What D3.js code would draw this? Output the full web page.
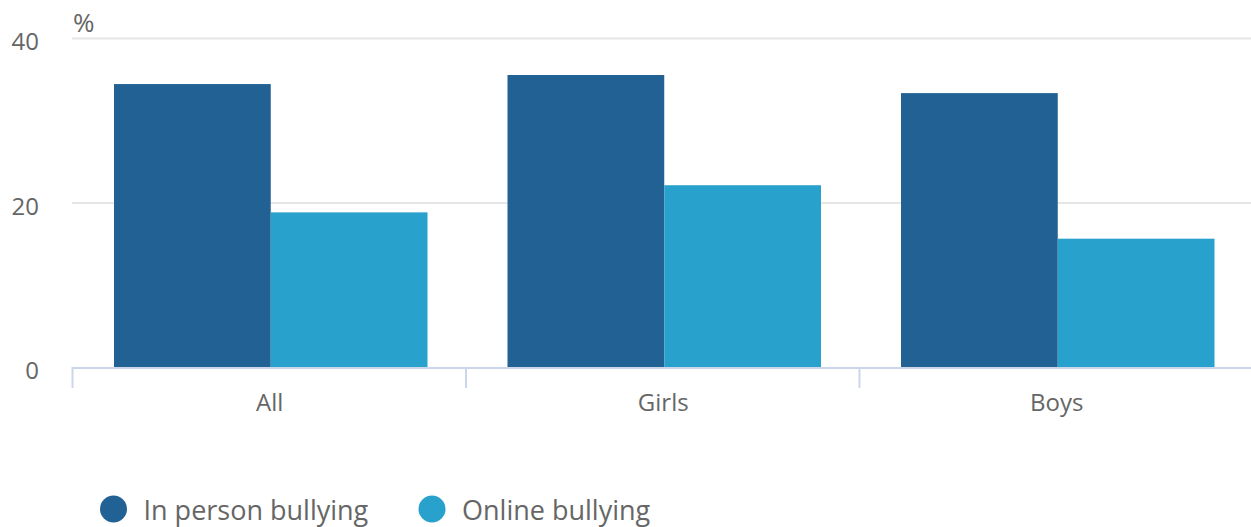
<!DOCTYPE html>
<html>
<head>
<meta charset="utf-8">
<script src="https://cdn.jsdelivr.net/npm/d3@7"></script>
<style>
  html, body { margin: 0; padding: 0; background: #fff; }
  svg { display: block; font-family: "Open Sans", "Noto Sans", sans-serif; }
</style>
</head>
<body>
<svg id="chart" width="1251" height="527"></svg>
<script>
// Share of young people reporting bullying, by group (%)
const categories = ["All", "Girls", "Boys"];
const seriesNames = ["In person bullying", "Online bullying"];
const inPerson = [34.4, 35.5, 33.3];
const online = [18.8, 22.1, 15.6];
const yTicks = [0, 20, 40];
const colors = ["#226193", "#28a1cc"];

const svg = d3.select("#chart");
const W = 1251;
const plotLeft = 72, catWidth = 393.5;
const plotTop = 38, plotBottom = 367;

const x0 = d3.scaleBand().domain(categories)
  .range([plotLeft, plotLeft + catWidth * categories.length]).padding(0);
// group padding on each side of the pair of bars
const x1 = d3.scaleBand().domain(seriesNames).range([42, catWidth - 38]).padding(0);
const y = d3.scaleLinear().domain([0, 40]).range([plotBottom, plotTop]);

// Gridlines
svg.append("g").selectAll("line").data(yTicks.filter(t => t > 0)).join("line")
  .attr("x1", plotLeft).attr("x2", W)
  .attr("y1", d => y(d) + 0.5).attr("y2", d => y(d) + 0.5)
  .attr("stroke", "#e6e6e6").attr("stroke-width", 2);

// Y labels
svg.append("g").selectAll("text").data(yTicks).join("text")
  .attr("x", 39).attr("y", d => y(d) + 12)
  .attr("text-anchor", "end")
  .attr("font-size", 24).attr("fill", "#666666")
  .text(d => d);

// Unit label
svg.append("text").attr("x", 73).attr("y", 32)
  .attr("font-size", 26).attr("fill", "#666666").text("%");

// Bars
const data = categories.map((c, i) => ({ cat: c, vals: [inPerson[i], online[i]] }));
const groups = svg.append("g").selectAll("g").data(data).join("g")
  .attr("transform", d => `translate(${x0(d.cat)},0)`);
groups.selectAll("rect").data(d => d.vals.map((v, j) => ({ v, s: seriesNames[j], j })))
  .join("rect")
  .attr("x", d => x1(d.s))
  .attr("width", x1.bandwidth())
  .attr("y", d => y(d.v))
  .attr("height", d => y(0) - y(d.v))
  .attr("fill", d => colors[d.j]);

// X axis line and ticks
svg.append("line")
  .attr("x1", plotLeft).attr("x2", W)
  .attr("y1", plotBottom + 1).attr("y2", plotBottom + 1)
  .attr("stroke", "#ccd6eb").attr("stroke-width", 2);
svg.append("g").selectAll("line").data(categories).join("line")
  .attr("x1", d => x0(d) + 0.5).attr("x2", d => x0(d) + 0.5)
  .attr("y1", plotBottom).attr("y2", plotBottom + 21)
  .attr("stroke", "#ccd6eb").attr("stroke-width", 2);

// Category labels
svg.append("g").selectAll("text").data(categories).join("text")
  .attr("x", d => x0(d) + catWidth / 2 + 1)
  .attr("y", 411)
  .attr("text-anchor", "middle")
  .attr("font-size", 24).attr("fill", "#666666")
  .text(d => d);

// Legend
const legendX = [113.5, 432];
const legend = svg.append("g").selectAll("g").data(seriesNames).join("g")
  .attr("transform", (d, i) => `translate(${legendX[i]},509)`);
legend.append("circle").attr("r", 13.5).attr("fill", (d, i) => colors[i]);
legend.append("text").attr("x", 30).attr("y", 11)
  .attr("font-size", 27).attr("fill", "#666666")
  .text(d => d);
</script>
</body>
</html>
